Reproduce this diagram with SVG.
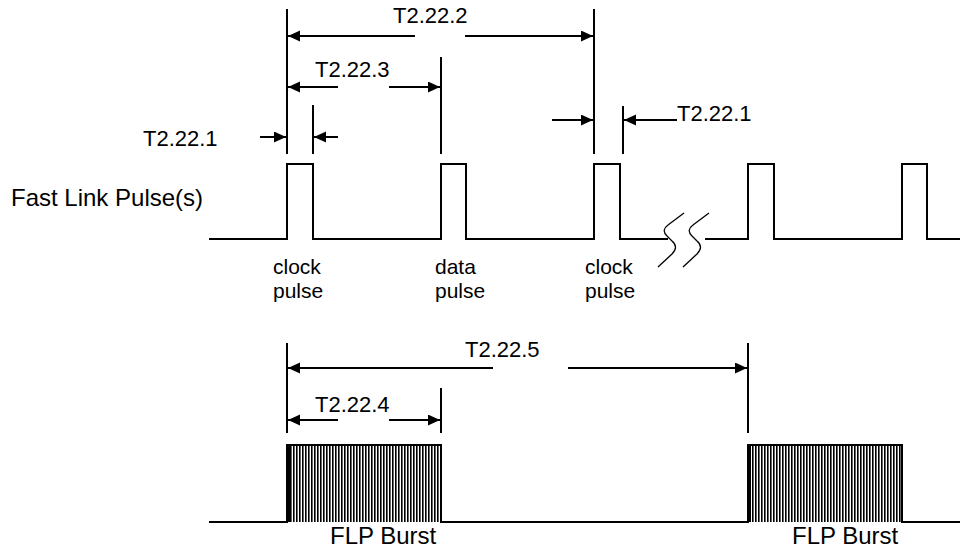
<svg xmlns="http://www.w3.org/2000/svg" width="966" height="550" viewBox="0 0 966 550">
<style>
.ln{stroke:#000;stroke-width:2;fill:none}
.ar{stroke:#000;stroke-width:2;fill:none;marker-end:url(#ah)}
.t{font-family:"Liberation Sans",Arial,sans-serif;font-size:22px;fill:#000}
.tp{font-family:"Liberation Sans",Arial,sans-serif;font-size:21px;fill:#000}
.tb{font-family:"Liberation Sans",Arial,sans-serif;font-size:24px;fill:#000}
</style>
<defs>
<marker id="ah" markerUnits="userSpaceOnUse" markerWidth="13" markerHeight="12" refX="12" refY="5.5" orient="auto">
<path d="M0,0 L12,5.5 L0,11 z" fill="#000"/>
</marker>
<pattern id="hatch" x="287" y="0" width="3" height="10" patternUnits="userSpaceOnUse">
<rect x="0" y="0" width="1.6" height="10" fill="#000"/>
</pattern>
</defs>
<rect width="966" height="550" fill="#fff"/>

<g id="flp-waveform">
<path class="ln" d="M209,239 H287 V164 H313 V239 H441 V164 H466 V239 H594 V164 H620 V239 H668"/>
<path class="ln" d="M705,239 H748 V164 H774 V239 H902 V164 H927 V239 H960"/>
<path fill="none" stroke="#000" stroke-width="1.3" d="M658,267 L672,254 Q679,247 672,241 L667,236 Q661,230 668,225 L684,213"/>
<path fill="none" stroke="#000" stroke-width="1.3" d="M683,267 L697,254 Q704,247 697,241 L692,236 Q686,230 693,225 L709,213"/>
<text class="tb" x="11" y="206">Fast Link Pulse(s)</text>
</g>

<g id="labels-pulses">
<text class="tp" x="273" y="274">clock</text>
<text class="tp" x="273" y="298">pulse</text>
<text class="tp" x="435" y="274">data</text>
<text class="tp" x="435" y="298">pulse</text>
<text class="tp" x="585" y="274">clock</text>
<text class="tp" x="585" y="298">pulse</text>
</g>

<g id="burst-waveform">
<rect x="287" y="445" width="154" height="77" fill="url(#hatch)"/>
<rect x="748" y="445" width="154" height="77" fill="url(#hatch)"/>
<path class="ln" d="M209,522 H287 V445 H441 V522 H748 V445 H902 V522 H960"/>
<rect x="287" y="445" width="3" height="77" fill="#000"/>
<rect x="748" y="445" width="3" height="77" fill="#000"/>
<text class="tb" x="330" y="544">FLP Burst</text>
<text class="tb" x="792" y="544">FLP Burst</text>
</g>

<g id="connectors">
<line class="ln" x1="287" y1="9" x2="287" y2="154"/>
<line class="ln" x1="313" y1="105" x2="313" y2="154"/>
<line class="ln" x1="441" y1="57" x2="441" y2="154"/>
<line class="ln" x1="594" y1="9" x2="594" y2="154"/>
<line class="ln" x1="623" y1="106" x2="623" y2="154"/>
<line class="ar" x1="415" y1="36" x2="288" y2="36"/>
<line class="ar" x1="465" y1="36" x2="593" y2="36"/>
<line class="ar" x1="338" y1="87" x2="288" y2="87"/>
<line class="ar" x1="389" y1="87" x2="440" y2="87"/>
<line class="ar" x1="260" y1="137" x2="286" y2="137"/>
<line class="ar" x1="338" y1="137" x2="314" y2="137"/>
<line class="ar" x1="552" y1="120" x2="593" y2="120"/>
<line class="ar" x1="677" y1="120" x2="624" y2="120"/>
<line class="ln" x1="287" y1="343" x2="287" y2="433"/>
<line class="ln" x1="441" y1="388" x2="441" y2="433"/>
<line class="ln" x1="748" y1="343" x2="748" y2="433"/>
<line class="ar" x1="493" y1="368" x2="288" y2="368"/>
<line class="ar" x1="568" y1="368" x2="747" y2="368"/>
<line class="ar" x1="338" y1="420" x2="288" y2="420"/>
<line class="ar" x1="389" y1="420" x2="440" y2="420"/>
</g>

<g id="timing-labels">
<text class="t" x="393" y="23">T2.22.2</text>
<text class="t" x="315" y="77">T2.22.3</text>
<text class="t" x="143" y="146">T2.22.1</text>
<text class="t" x="677" y="121">T2.22.1</text>
<text class="t" x="465" y="357">T2.22.5</text>
<text class="t" x="315" y="412">T2.22.4</text>
</g>
</svg>
